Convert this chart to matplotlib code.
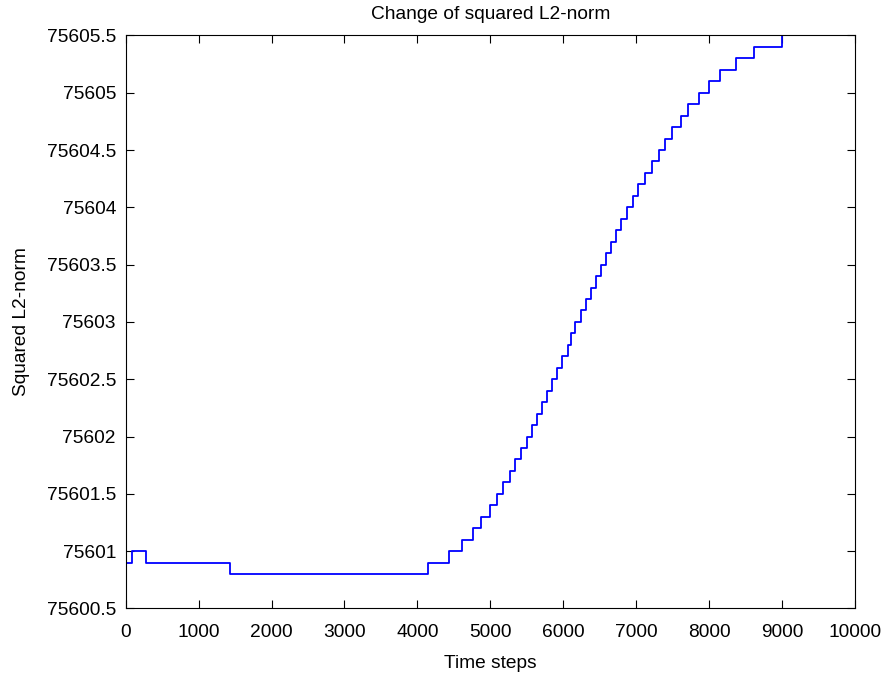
import matplotlib
matplotlib.use("Agg")
import matplotlib.pyplot as plt
from matplotlib.ticker import FuncFormatter, MultipleLocator

# step change points (time step) and the value held from that step on
step_times = [0, 90, 274, 1431,
              4151, 4439, 4606, 4760, 4878, 4993, 5089, 5180, 5267, 5344,
              5426, 5500, 5573, 5638, 5706, 5775, 5852, 5912, 5989, 6063,
              6104, 6167, 6241, 6310, 6378, 6447, 6516, 6588, 6657, 6726,
              6794, 6869, 6955, 7031, 7123, 7215, 7315, 7398, 7489, 7613,
              7717, 7864, 8001, 8152, 8372, 8622, 8998]
step_values = [75600.9, 75601.0, 75600.9, 75600.8,
               75600.9, 75601.0, 75601.1, 75601.2, 75601.3, 75601.4, 75601.5,
               75601.6, 75601.7, 75601.8, 75601.9, 75602.0, 75602.1, 75602.2,
               75602.3, 75602.4, 75602.5, 75602.6, 75602.7, 75602.8, 75602.9,
               75603.0, 75603.1, 75603.2, 75603.3, 75603.4, 75603.5, 75603.6,
               75603.7, 75603.8, 75603.9, 75604.0, 75604.1, 75604.2, 75604.3,
               75604.4, 75604.5, 75604.6, 75604.7, 75604.8, 75604.9, 75605.0,
               75605.1, 75605.2, 75605.3, 75605.4, 75605.5]

plt.rcParams['font.family'] = ['Liberation Sans', 'DejaVu Sans']
fs = 13.8

fig = plt.figure(figsize=(8.85, 6.77), dpi=100)
ax = fig.add_axes([0.142, 0.1013, 0.824, 0.8464])

ax.step(step_times, step_values, where='post', color=(0, 0, 1), linewidth=1.3)

ax.set_xlim(0, 10000)
ax.set_ylim(75600.5, 75605.5)
ax.xaxis.set_major_locator(MultipleLocator(1000))
ax.yaxis.set_major_locator(MultipleLocator(0.5))
ax.yaxis.set_major_formatter(FuncFormatter(lambda v, p: f'{v:.10g}'))
ax.xaxis.set_major_formatter(FuncFormatter(lambda v, p: f'{v:.10g}'))

ax.tick_params(direction='in', length=6, width=0.8, top=True, right=True,
               labelsize=fs)
ax.tick_params(axis='x', pad=11)
ax.tick_params(axis='y', pad=7)
for s in ax.spines.values():
    s.set_linewidth(0.8)

ax.set_title('Change of squared L2-norm', fontsize=fs, pad=12)
ax.set_xlabel('Time steps', fontsize=fs, labelpad=10)
ax.set_ylabel('Squared L2-norm', fontsize=fs, labelpad=12)

fig.savefig('out.png', dpi=100)
